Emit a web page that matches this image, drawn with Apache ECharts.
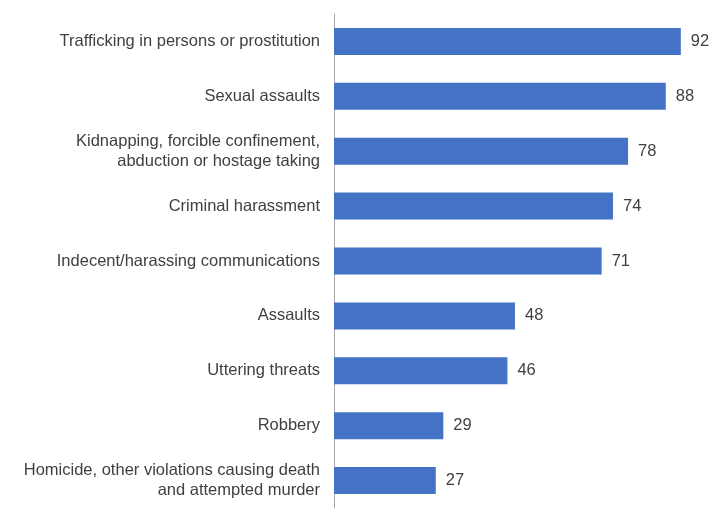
<!DOCTYPE html>
<html>
<head>
<meta charset="utf-8">
<script src="https://cdn.jsdelivr.net/npm/echarts@6/dist/echarts.min.js"></script>
<style>
html, body { margin: 0; padding: 0; background: #fff; }
#chart { width: 720px; height: 522px; }
</style>
</head>
<body>
<div id="chart"></div>
<script>
// categories top to bottom
const categories = [
	'Trafficking in persons or prostitution',
	'Sexual assaults',
	'Kidnapping, forcible confinement,\nabduction or hostage taking',
	'Criminal harassment',
	'Indecent/harassing communications',
	'Assaults',
	'Uttering threats',
	'Robbery',
	'Homicide, other violations causing death\nand attempted murder'
];
const values = [92, 88, 78, 74, 71, 48, 46, 29, 27];

let chart = echarts.init(document.getElementById('chart'));
chart.setOption({
	animation: false,
	backgroundColor: '#fff',
	grid: {
		left: 334,
		right: 9,
		top: 14,
		bottom: 14
	},
	xAxis: {
		type: 'value',
		min: 0,
		max: 100,
		show: false
	},
	yAxis: {
		type: 'category',
		inverse: true,
		data: categories,
		axisLine: { lineStyle: { color: '#a6a6a6', width: 1 } },
		axisTick: { show: false },
		axisLabel: {
			color: '#404040',
			fontFamily: 'Liberation Sans, Arial, sans-serif',
			fontSize: 16.5,
			lineHeight: 20,
			margin: 14,
			padding: [2, 0, 0, 0]
		}
	},
	series: [{
		type: 'bar',
		data: values,
		barWidth: 27,
		itemStyle: { color: '#4472C4' },
		label: {
			show: true,
			position: 'right',
			distance: 10,
			color: '#404040',
			fontFamily: 'Liberation Sans, Arial, sans-serif',
			fontSize: 16.5,
			padding: [2, 0, 0, 0]
		}
	}]
});
</script>
</body>
</html>
